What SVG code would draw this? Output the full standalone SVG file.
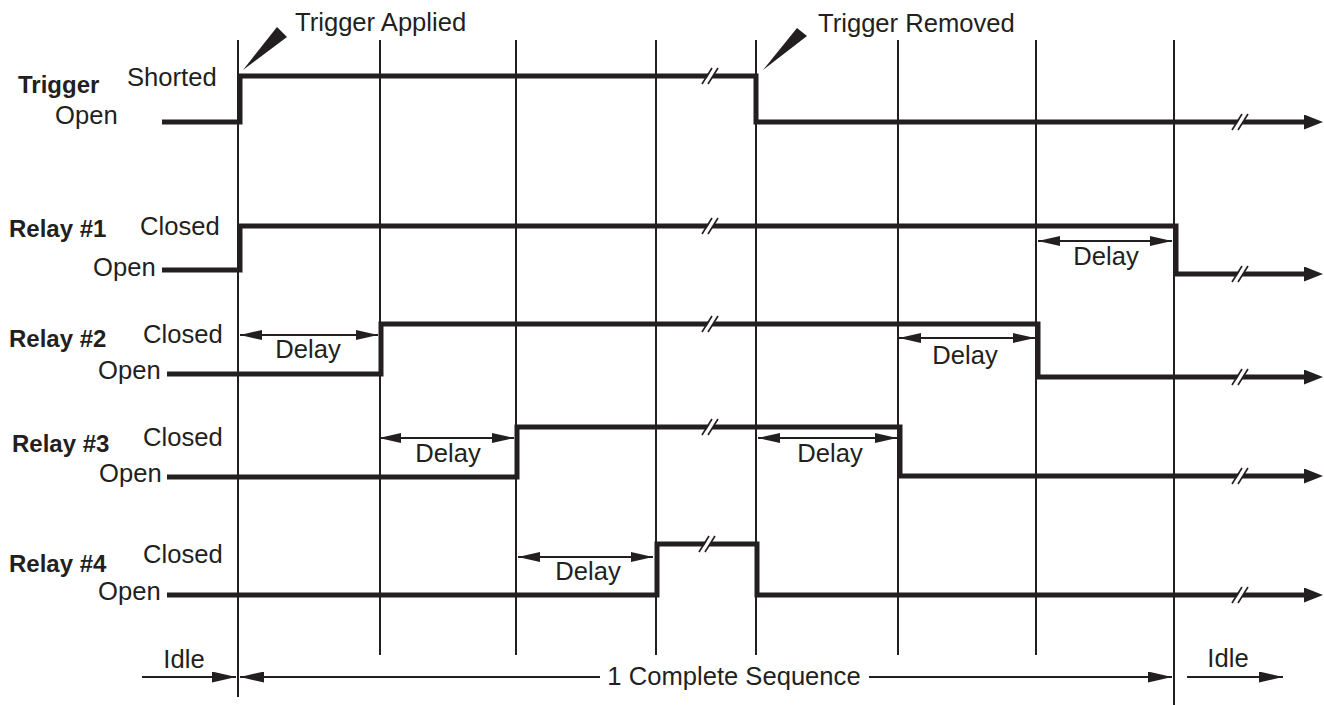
<svg xmlns="http://www.w3.org/2000/svg" width="1324" height="705" viewBox="0 0 1324 705">
<style>
  text { font-family: "Liberation Sans", Arial, Helvetica, sans-serif; fill: #231f20; }
  .lbl { font-size: 25.6px; }
  .bold { font-size: 24px; font-weight: bold; }
  .ctr { text-anchor: middle; }
  .grid { stroke: #231f20; stroke-width: 2; fill: none; }
  .wave { stroke: #231f20; stroke-width: 5; fill: none; stroke-linejoin: miter; stroke-linecap: butt; }
  .dim { stroke: #231f20; stroke-width: 1.8; fill: none; }
  .brk-gap { fill: #ffffff; stroke: none; }
  .brk-ln { stroke: #231f20; stroke-width: 1.6; }
</style>
<defs>
  <marker id="ah" markerUnits="userSpaceOnUse" viewBox="0 0 22 10" markerWidth="22" markerHeight="10" refX="22" refY="5" orient="auto-start-reverse">
    <path d="M0,0 L22,5 L0,10 Z" fill="#231f20"/>
  </marker>
  <marker id="ahIdle" markerUnits="userSpaceOnUse" viewBox="0 0 24 11" markerWidth="24" markerHeight="11" refX="24" refY="5.5" orient="auto-start-reverse">
    <path d="M0,0 L24,5.5 L0,11 Z" fill="#231f20"/>
  </marker>
  <marker id="ahBig" markerUnits="userSpaceOnUse" viewBox="0 0 19 15" markerWidth="19" markerHeight="15" refX="4" refY="7.5" orient="auto">
    <path d="M0,0 L19,7.5 L0,15 Z" fill="#231f20"/>
  </marker>
  <g id="brk">
    <polygon class="brk-gap" points="-7,8 -2,8 8,-8 3,-8"/>
    <line class="brk-ln" x1="-8" y1="8" x2="2" y2="-8"/>
    <line class="brk-ln" x1="-2" y1="8" x2="8" y2="-8"/>
  </g>
</defs>

<g id="grid">
  <line class="grid" x1="238" y1="40" x2="238" y2="697"/>
  <line class="grid" x1="380" y1="40" x2="380" y2="655"/>
  <line class="grid" x1="516" y1="40" x2="516" y2="655"/>
  <line class="grid" x1="656" y1="40" x2="656" y2="655"/>
  <line class="grid" x1="756" y1="40" x2="756" y2="655"/>
  <line class="grid" x1="898" y1="40" x2="898" y2="655"/>
  <line class="grid" x1="1036" y1="40" x2="1036" y2="655"/>
  <line class="grid" x1="1174" y1="40" x2="1174" y2="705"/>
</g>

<g id="trigger">
  <text class="bold" x="18" y="93">Trigger</text>
  <text class="lbl" x="127" y="86">Shorted</text>
  <text class="lbl" x="55" y="124">Open</text>
  <polyline class="wave" points="162,122 240,122 240,76 756,76 756,122 1308,122" marker-end="url(#ahBig)"/>
  <use href="#brk" x="710" y="76"/>
  <use href="#brk" x="1240" y="122"/>
</g>

<g id="relay1">
  <text class="bold" x="9" y="237">Relay #1</text>
  <text class="lbl" x="140" y="235">Closed</text>
  <text class="lbl" x="93" y="276">Open</text>
  <polyline class="wave" points="162,270 240,270 240,226 1176,226 1176,274 1308,274" marker-end="url(#ahBig)"/>
  <use href="#brk" x="710" y="226"/>
  <use href="#brk" x="1240" y="274"/>
</g>

<g id="relay2">
  <text class="bold" x="9" y="347">Relay #2</text>
  <text class="lbl" x="143" y="343">Closed</text>
  <text class="lbl" x="98" y="379">Open</text>
  <polyline class="wave" points="167,374 381,374 381,324 1038,324 1038,377 1308,377" marker-end="url(#ahBig)"/>
  <use href="#brk" x="710" y="324"/>
  <use href="#brk" x="1240" y="377"/>
</g>

<g id="relay3">
  <text class="bold" x="12" y="452">Relay #3</text>
  <text class="lbl" x="143" y="446">Closed</text>
  <text class="lbl" x="99" y="482">Open</text>
  <polyline class="wave" points="167,477 517,477 517,427 900,427 900,476 1308,476" marker-end="url(#ahBig)"/>
  <use href="#brk" x="710" y="427"/>
  <use href="#brk" x="1240" y="476"/>
</g>

<g id="relay4">
  <text class="bold" x="9" y="572">Relay #4</text>
  <text class="lbl" x="143" y="563">Closed</text>
  <text class="lbl" x="98" y="600">Open</text>
  <polyline class="wave" points="167,595 657,595 657,544 757,544 757,595 1308,595" marker-end="url(#ahBig)"/>
  <use href="#brk" x="707" y="544"/>
  <use href="#brk" x="1240" y="595"/>
</g>

<g id="connectors">
  <polygon points="243,70 277,27 287,37" fill="#231f20"/>
  <text class="lbl" x="295" y="31">Trigger Applied</text>
  <polygon points="763,70 797,28 807,36" fill="#231f20"/>
  <text class="lbl" x="818" y="32">Trigger Removed</text>

  <line class="dim" x1="1038" y1="241" x2="1172" y2="241" marker-start="url(#ah)" marker-end="url(#ah)"/>
  <text class="lbl ctr" x="1106" y="265">Delay</text>

  <line class="dim" x1="240" y1="335" x2="378" y2="335" marker-start="url(#ah)" marker-end="url(#ah)"/>
  <text class="lbl ctr" x="308" y="358">Delay</text>

  <line class="dim" x1="899" y1="338" x2="1035" y2="338" marker-start="url(#ah)" marker-end="url(#ah)"/>
  <text class="lbl ctr" x="965" y="364">Delay</text>

  <line class="dim" x1="379" y1="438" x2="514" y2="438" marker-start="url(#ah)" marker-end="url(#ah)"/>
  <text class="lbl ctr" x="448" y="462">Delay</text>

  <line class="dim" x1="758" y1="438" x2="897" y2="438" marker-start="url(#ah)" marker-end="url(#ah)"/>
  <text class="lbl ctr" x="830" y="462">Delay</text>

  <line class="dim" x1="518" y1="557" x2="653" y2="557" marker-start="url(#ah)" marker-end="url(#ah)"/>
  <text class="lbl ctr" x="588" y="580">Delay</text>

  <line class="dim" x1="142" y1="677" x2="236" y2="677" marker-end="url(#ahIdle)"/>
  <text class="lbl ctr" x="184" y="668">Idle</text>

  <line class="dim" x1="600" y1="677" x2="240" y2="677" marker-end="url(#ahIdle)"/>
  <text class="lbl ctr" x="734" y="685">1 Complete Sequence</text>
  <line class="dim" x1="869" y1="677" x2="1172" y2="677" marker-end="url(#ahIdle)"/>

  <line class="dim" x1="1187" y1="677" x2="1283" y2="677" marker-end="url(#ahIdle)"/>
  <text class="lbl ctr" x="1228" y="667">Idle</text>
</g>
</svg>
